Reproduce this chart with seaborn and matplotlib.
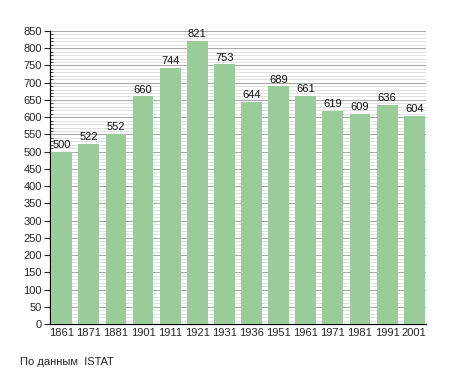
import numpy as np
import pandas as pd
import matplotlib
matplotlib.use('Agg')
import matplotlib.pyplot as plt
import seaborn as sns
from matplotlib.ticker import MultipleLocator

years = ['1861', '1871', '1881', '1901', '1911', '1921', '1931',
         '1936', '1951', '1961', '1971', '1981', '1991', '2001']
population = [500, 522, 552, 660, 744, 821, 753, 644, 689, 661, 619, 609, 636, 604]

df = pd.DataFrame({'year': years, 'pop': population})

sns.set_style('white')
plt.rcParams['font.family'] = ['Liberation Sans', 'DejaVu Sans']

fig = plt.figure(figsize=(4.55, 3.73), dpi=100)
ax = fig.add_axes([0.11, 0.131, 0.826, 0.786])

sns.barplot(data=df, x='year', y='pop', color='#99cc99', saturation=1,
            width=0.77, edgecolor='none', linewidth=0, ax=ax, zorder=3)

for i, v in enumerate(population):
    ax.text(i, v + 5, str(v), ha='center', va='bottom', fontsize=8, color='#111111', zorder=4)

ax.set_ylim(0, 850)
ax.set_xlim(-0.43, len(years) - 0.57)
ax.yaxis.set_major_locator(MultipleLocator(50))
ax.yaxis.set_minor_locator(MultipleLocator(10))
ax.grid(which='major', axis='y', color='#a8a8a8', linewidth=0.8, zorder=0)
ax.grid(which='minor', axis='y', color='#dcdcdc', linewidth=0.6, zorder=0)
ax.set_axisbelow(True)

for s in ['top', 'right']:
    ax.spines[s].set_visible(False)
ax.spines['left'].set_color('black')
ax.spines['bottom'].set_color('black')
ax.spines['left'].set_linewidth(0.9)
ax.spines['bottom'].set_linewidth(0.9)

ax.tick_params(axis='y', which='major', length=4, width=0.8, labelsize=8, left=True, pad=2)
ax.tick_params(axis='y', which='minor', length=2.5, width=0.6, left=True, direction='in')
ax.tick_params(axis='x', length=0, labelsize=8, pad=3)
ax.set_xlabel('')
ax.set_ylabel('')

fig.text(0.044, 0.029, 'По данным  ISTAT', fontsize=8, ha='left', va='center')

fig.savefig('out.png', dpi=100)
